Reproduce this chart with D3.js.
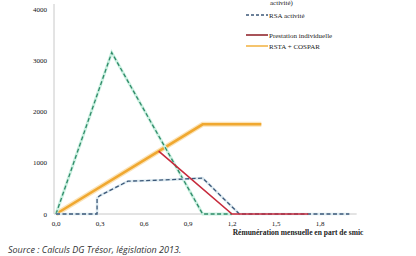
<!DOCTYPE html>
<html>
<head>
<meta charset="utf-8">
<script src="https://cdn.jsdelivr.net/npm/d3@7"></script>
<style>
  body { margin: 0; background: #fff; }
  svg { display: block; }
</style>
</head>
<body>
<script>
// data (x = part de smic, y = euros / mois)
const xTicks = [0, 0.3, 0.6, 0.9, 1.2, 1.5, 1.8];
const yTicks = [0, 1000, 2000, 3000, 4000];

const rsaTriangleX = [0, 0.38, 1.0, 1.2];
const rsaTriangleY = [0, 3150, 0, 0];

const ppeX = [0, 0.28, 0.28, 0.3, 0.49, 0.7, 1.0, 1.25, 2.0];
const ppeY = [0, 0, 310, 360, 640, 660, 700, 0, 0];

const prestationX = [0.7, 1.2, 1.72];
const prestationY = [1225, 0, 0];

const rstaX = [0, 1.0, 1.4];
const rstaY = [0, 1750, 1750];

const legendLabels = ["RSA activité", "Prestation individuelle", "RSTA + COSPAR"];

const width = 416, height = 256;
const svg = d3.select("body").append("svg")
    .attr("width", width)
    .attr("height", height);

const x = d3.scaleLinear().domain([0, 1.8]).range([56, 320]);
const y = d3.scaleLinear().domain([0, 4000]).range([214, 9]);

const fr = d => d3.format(".1f")(d).replace(".", ",");

// axes
svg.append("line")
    .attr("x1", x(0) - 2).attr("x2", x(0) - 2)
    .attr("y1", 4).attr("y2", y(0))
    .attr("stroke", "#c8c8c8").attr("stroke-width", 1);

svg.append("line")
    .attr("x1", x(0) - 2).attr("x2", x(2.05))
    .attr("y1", y(0)).attr("y2", y(0))
    .attr("stroke", "#c8c8c8").attr("stroke-width", 1);

svg.selectAll(".ylab")
    .data(yTicks)
    .enter().append("text")
    .attr("x", 47)
    .attr("y", d => y(d) + 2.5)
    .attr("text-anchor", "end")
    .style("font", "7px 'Liberation Serif'")
    .style("fill", "#111")
    .text(d => d);

svg.selectAll(".xlab")
    .data(xTicks)
    .enter().append("text")
    .attr("x", d => x(d))
    .attr("y", 226)
    .attr("text-anchor", "middle")
    .style("font", "7px 'Liberation Serif'")
    .style("fill", "#111")
    .text(fr);

svg.append("text")
    .attr("x", 298)
    .attr("y", 235)
    .attr("text-anchor", "middle")
    .style("font", "bold 7.5px 'Liberation Serif'")
    .style("fill", "#222")
    .text("Rémunération mensuelle en part de smic");

svg.append("text")
    .attr("x", 8)
    .attr("y", 253)
    .style("font", "italic 9px 'Open Sans'")
    .style("fill", "#333")
    .text("Source :   Calculs DG Trésor, législation 2013.");

// series
const line = d3.line().x(d => x(d[0])).y(d => y(d[1]));
const zip = (a, b) => a.map((v, i) => [v, b[i]]);

// RSTA + COSPAR
svg.append("path")
    .attr("d", line(zip(rstaX, rstaY)))
    .attr("fill", "none")
    .attr("stroke", "#fbe3b8")
    .attr("stroke-width", 5);
svg.append("path")
    .attr("d", line(zip(rstaX, rstaY)))
    .attr("fill", "none")
    .attr("stroke", "#f0a830")
    .attr("stroke-width", 2.6);

// RSA activité triangle
svg.append("path")
    .attr("d", line(zip(rsaTriangleX, rsaTriangleY)))
    .attr("fill", "none")
    .attr("stroke", "#c9f0e0")
    .attr("stroke-width", 3);
svg.append("path")
    .attr("d", line(zip(rsaTriangleX, rsaTriangleY)))
    .attr("fill", "none")
    .attr("stroke", "#2f8a68")
    .attr("stroke-width", 1.3)
    .attr("stroke-dasharray", "4,2.5");

// PPE dashed
svg.append("path")
    .attr("d", line(zip(ppeX, ppeY)))
    .attr("fill", "none")
    .attr("stroke", "#dbe9f0")
    .attr("stroke-width", 2.6);
svg.append("path")
    .attr("d", line(zip(ppeX, ppeY)))
    .attr("fill", "none")
    .attr("stroke", "#3d5878")
    .attr("stroke-width", 1.3)
    .attr("stroke-dasharray", "4,2.5");

// Prestation individuelle
svg.append("path")
    .attr("d", line(zip(prestationX, prestationY)))
    .attr("fill", "none")
    .attr("stroke", "#c72a3c")
    .attr("stroke-width", 1.6);

// legend
svg.append("text")
    .attr("x", 270).attr("y", 5)
    .style("font", "7px 'Liberation Serif'")
    .style("fill", "#222")
    .text("activité)");

const legendY = [15, 35, 46];
const legendStyle = [
    { stroke: "#3d5878", width: 1.3, dash: "3,2" },
    { stroke: "#8b1a22", width: 1.5, dash: null },
    { stroke: "#f5c46e", width: 2, dash: null }
];

legendLabels.forEach((label, i) => {
    svg.append("line")
        .attr("x1", 246).attr("x2", 268)
        .attr("y1", legendY[i]).attr("y2", legendY[i])
        .attr("stroke", legendStyle[i].stroke)
        .attr("stroke-width", legendStyle[i].width)
        .attr("stroke-dasharray", legendStyle[i].dash);
    svg.append("text")
        .attr("x", 269).attr("y", legendY[i] + 2.5)
        .style("font", "7px 'Liberation Serif'")
        .style("fill", "#222")
        .text(label);
});
</script>
</body>
</html>
